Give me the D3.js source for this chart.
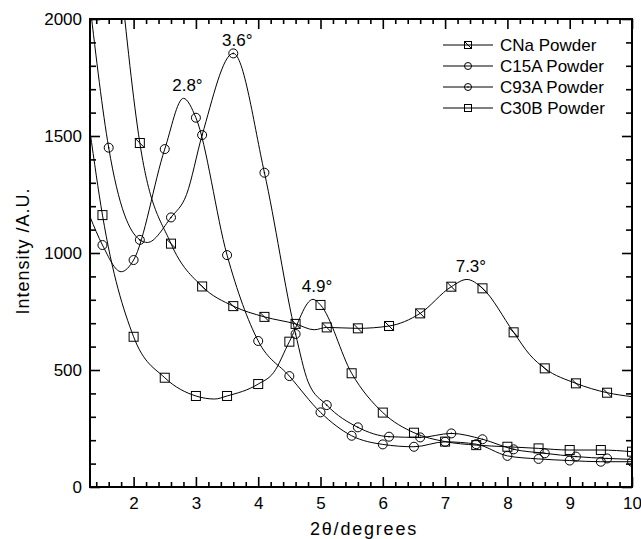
<!DOCTYPE html>
<html>
<head>
<meta charset="utf-8">
<script src="https://cdn.jsdelivr.net/npm/d3@7"></script>
<style>
  body { margin: 0; background: #fff; }
  text { font-family: "Liberation Sans", Arial, sans-serif; fill: #000; }
</style>
</head>
<body>
<div id="chart"></div>
<script>
// ---- data ----
const seriesNames = ["CNa Powder", "C15A Powder", "C93A Powder", "C30B Powder"];

// marker points (x in degrees 2θ, y in A.U.)
const cnaX = [2.1, 2.6, 3.1, 3.6, 4.1, 4.6, 5.1, 5.6, 6.1, 6.6, 7.1, 7.6, 8.1, 8.6, 9.1, 9.6];
const cnaY = [1470, 1040, 857, 773, 727, 697, 682, 678, 688, 742, 856, 849, 661, 507, 443, 403];
const c15aX = [1.5, 2.0, 2.5, 3.0, 3.5, 4.0, 4.5, 5.0, 5.5, 6.0, 6.5, 7.0, 7.5, 8.0, 8.5, 9.0, 9.5, 10.0];
const c15aY = [1034, 970, 1444, 1578, 991, 624, 474, 319, 219, 182, 172, 193, 183, 133, 120, 113, 108, 108];
const c93aX = [1.6, 2.1, 2.6, 3.1, 3.6, 4.1, 4.6, 5.1, 5.6, 6.1, 6.6, 7.1, 7.6, 8.1, 8.6, 9.1, 9.6];
const c93aY = [1450, 1056, 1152, 1504, 1853, 1343, 654, 350, 255, 215, 212, 229, 204, 161, 144, 130, 122];
const c30bX = [1.5, 2.0, 2.5, 3.0, 3.5, 4.0, 4.5, 5.0, 5.5, 6.0, 6.5, 7.0, 7.5, 8.0, 8.5, 9.0, 9.5, 10.0];
const c30bY = [1162, 642, 467, 389, 389, 440, 621, 778, 486, 318, 232, 194, 179, 172, 165, 158, 158, 151];

// extra points on the smoothed curves (ends, peaks, dips) that carry no marker
const cnaExtra = [[1.78, 2200], [4.9, 672], [7.35, 887], [8.36, 565], [10.0, 386]];
const c15aExtra = [[1.3, 1155], [1.8, 920], [2.8, 1661]];
const c93aExtra = [[1.3, 2060], [2.22, 1045], [2.85, 1250], [4.8, 450], [10.0, 118]];
const c30bExtra = [[1.3, 1520], [3.3, 376], [4.25, 490], [4.88, 802]];

// peak annotations
const peakLabels = ["2.8°", "3.6°", "4.9°", "7.3°"];
const peakX = [2.8, 3.6, 4.88, 7.35];
const peakY = [1661, 1853, 802, 887];

const xTicks = [2, 3, 4, 5, 6, 7, 8, 9, 10];
const yTicks = [0, 500, 1000, 1500, 2000];

// ---- layout ----
const W = 641, H = 539;
const m = { left: 90, right: 9, top: 19, bottom: 52 };
const iw = W - m.left - m.right, ih = H - m.top - m.bottom;

const x = d3.scaleLinear().domain([1.3, 10]).range([0, iw]);
const y = d3.scaleLinear().domain([0, 2000]).range([ih, 0]);

const svg = d3.select("#chart").append("svg")
    .attr("width", W).attr("height", H);
const g = svg.append("g").attr("transform", `translate(${m.left},${m.top})`);

g.append("clipPath").attr("id", "clip")
  .append("rect").attr("width", iw).attr("height", ih);

// minor tick values
const xMinor = d3.range(1.4, 10.0001, 0.2).map(v => +v.toFixed(1)).filter(v => !xTicks.includes(v));
const yMinor = d3.range(100, 2000, 100).filter(v => v % 500 != 0);

function styleAxis(sel) {
  sel.select(".domain").remove();
  sel.selectAll("line").attr("stroke", "#000").attr("stroke-width", 1.6);
  sel.selectAll("text").attr("font-size", "17px").attr("fill", "#000")
     .attr("font-family", '"Liberation Sans", Arial, sans-serif');
}

// bottom
g.append("g").attr("transform", `translate(0,${ih})`)
  .call(d3.axisBottom(x).tickValues(xTicks).tickSize(-10).tickPadding(10).tickFormat(d3.format("d")))
  .call(styleAxis);
g.append("g").attr("transform", `translate(0,${ih})`)
  .call(d3.axisBottom(x).tickValues(xMinor).tickSize(-5).tickFormat(""))
  .call(styleAxis);
// top
g.append("g")
  .call(d3.axisTop(x).tickValues(xTicks).tickSize(-10).tickFormat(""))
  .call(styleAxis);
g.append("g")
  .call(d3.axisTop(x).tickValues(xMinor).tickSize(-5).tickFormat(""))
  .call(styleAxis);
// left
g.append("g")
  .call(d3.axisLeft(y).tickValues(yTicks).tickSize(-10).tickPadding(8).tickFormat(d3.format("d")))
  .call(styleAxis);
g.append("g")
  .call(d3.axisLeft(y).tickValues(yMinor).tickSize(-6).tickFormat(""))
  .call(styleAxis);
// right
g.append("g").attr("transform", `translate(${iw},0)`)
  .call(d3.axisRight(y).tickValues(yTicks).tickSize(-10).tickFormat(""))
  .call(styleAxis);
g.append("g").attr("transform", `translate(${iw},0)`)
  .call(d3.axisRight(y).tickValues(yMinor).tickSize(-6).tickFormat(""))
  .call(styleAxis);

// frame
g.append("rect").attr("width", iw).attr("height", ih)
  .attr("fill", "none").attr("stroke", "#000").attr("stroke-width", 2);

// ---- series ----
const series = [
  { name: seriesNames[0], xs: cnaX, ys: cnaY, extra: cnaExtra, sym: "sqdiag" },
  { name: seriesNames[1], xs: c15aX, ys: c15aY, extra: c15aExtra, sym: "circle" },
  { name: seriesNames[2], xs: c93aX, ys: c93aY, extra: c93aExtra, sym: "circledot" },
  { name: seriesNames[3], xs: c30bX, ys: c30bY, extra: c30bExtra, sym: "square" }
];

const line = d3.line()
  .x(d => x(d[0])).y(d => y(d[1]))
  .curve(d3.curveMonotoneX);

function drawSymbol(sel, type, s) {
  const h = s / 2;
  if (type === "square" || type === "sqdiag") {
    sel.append("rect").attr("x", -h).attr("y", -h).attr("width", s).attr("height", s)
      .attr("fill", "none").attr("stroke", "#000").attr("stroke-width", 1);
    if (type === "sqdiag")
      sel.append("line").attr("x1", -h).attr("y1", -h).attr("x2", h).attr("y2", h)
        .attr("stroke", "#000").attr("stroke-width", 1);
  } else {
    sel.append("circle").attr("r", h).attr("fill", "none")
      .attr("stroke", "#000").attr("stroke-width", 1);
    if (type === "circledot")
      sel.append("circle").attr("r", 0.8).attr("fill", "#000");
  }
}

const plot = g.append("g").attr("clip-path", "url(#clip)");

series.forEach(s => {
  const pts = s.xs.map((v, i) => [v, s.ys[i]]).concat(s.extra)
    .sort((a, b) => a[0] - b[0]);
  plot.append("path").datum(pts)
    .attr("d", line)
    .attr("fill", "none").attr("stroke", "#000").attr("stroke-width", 1);
});

series.forEach(s => {
  s.xs.forEach((v, i) => {
    const mk = plot.append("g").attr("transform", `translate(${x(v)},${y(s.ys[i])})`);
    drawSymbol(mk, s.sym, 9);
  });
});

// peak labels
g.selectAll(".peak").data(peakLabels).enter().append("text")
  .attr("class", "peak")
  .attr("x", (d, i) => x(peakX[i]) + 4)
  .attr("y", (d, i) => y(peakY[i]) - 7)
  .attr("text-anchor", "middle")
  .attr("font-size", "17px")
  .text(d => d);

// ---- legend ----
const lg = svg.append("g").attr("transform", "translate(443,45)");
series.forEach((s, i) => {
  const row = lg.append("g").attr("transform", `translate(0,${i * 21})`);
  row.append("line").attr("x1", 0).attr("x2", 50).attr("y1", 0).attr("y2", 0)
    .attr("stroke", "#000").attr("stroke-width", 1);
  const mk = row.append("g").attr("transform", "translate(25,0)");
  drawSymbol(mk, s.sym, 7);
  row.append("text").attr("x", 57).attr("y", 6).attr("font-size", "17px").text(s.name);
});

// ---- axis titles ----
svg.append("text")
  .attr("x", m.left + iw / 2 + 3).attr("y", 535)
  .attr("text-anchor", "middle").attr("font-size", "18px")
  .attr("letter-spacing", "1.8px")
  .text("2θ/degrees");

svg.append("text")
  .attr("transform", `translate(29,${m.top + y(1000) - 2}) rotate(-90)`)
  .attr("text-anchor", "middle").attr("font-size", "18px")
  .attr("letter-spacing", "1px")
  .text("Intensity /A.U.");
</script>
</body>
</html>
